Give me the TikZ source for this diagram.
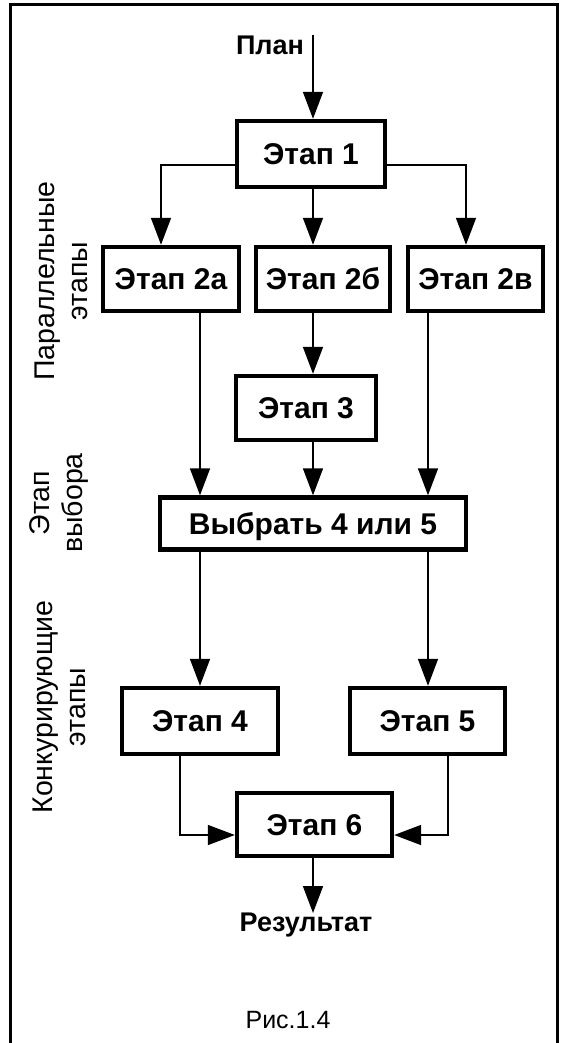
\documentclass[tikz,border=0pt]{standalone}
\usepackage{fontspec}
\setmainfont{Liberation Sans}
\usetikzlibrary{arrows.meta}
\tikzset{
  stage/.style={draw, line width=4.4pt, fill=white, inner sep=0pt, text height=21.5pt, text depth=0pt, font=\fontsize{30}{34}\bfseries\selectfont},
  conn/.style={line width=1.6pt},
  arr/.style={conn, -{Triangle[length=27pt,width=20pt]}},
  sidelabel/.style={rotate=90, align=center, font=\fontsize{28.5}{33}\selectfont},
  term/.style={font=\fontsize{27}{30}\bfseries\selectfont, inner sep=0pt}
}
\begin{document}
\begin{tikzpicture}[x=1pt,y=-1pt]
\useasboundingbox (0,0) rectangle (564,1043);
% frame
\draw[line width=3pt] (10,1050) -- (10,5) -- (557,5) -- (557,1050);
% columns / rows
\coordinate (xL) at (161,0);
\coordinate (xR) at (466,0);
\coordinate (xM) at (313,0);
\coordinate (xa) at (200,0);
\coordinate (xc) at (428,0);
\coordinate (x4) at (180,0);
\coordinate (x5) at (448,0);
\coordinate (yb) at (0,165);
\coordinate (y6) at (0,835);
\coordinate (planTop) at (313,35);
% nodes
\node[term] (plan) at (270,45) {План};
\node[stage, minimum width=148pt, minimum height=66pt] (p1) at (311,154) {Этап 1};
\node[stage, minimum width=136pt, minimum height=64pt] (a) at (171,279) {Этап 2а};
\node[stage, minimum width=134pt, minimum height=64pt] (b) at (323,279) {Этап 2б};
\node[stage, minimum width=135pt, minimum height=64pt] (c) at (475.5,279) {Этап 2в};
\node[stage, minimum width=140pt, minimum height=64pt] (e3) at (306,408) {Этап 3};
\node[stage, minimum width=306pt, minimum height=52pt] (s) at (313,523.5) {Выбрать 4 или 5};
\node[stage, minimum width=156pt, minimum height=66pt] (e4) at (200,721) {Этап 4};
\node[stage, minimum width=155pt, minimum height=66pt] (e5) at (427.5,721) {Этап 5};
\node[stage, minimum width=155pt, minimum height=63pt] (e6) at (314.5,824.5) {Этап 6};
\node[term, anchor=north] (res) at (306,913) {Результат};
\node[font=\fontsize{25}{28}\selectfont] (fig) at (288,1020) {Рис.1.4};
% side labels
\node[sidelabel] (l1) at (61,281) {Параллельные\\этапы};
\node[sidelabel] (l2) at (59,503) {Этап\\выбора};
\node[sidelabel] (l3) at (59,707) {Конкурирующие\\этапы};
% connectors
\draw[arr] (planTop) -- (planTop |- p1.north);
\draw[arr] (p1.west |- yb) -| (xL |- a.north);
\draw[arr] (p1.east |- yb) -| (xR |- c.north);
\draw[arr] (xM |- p1.south) -- (xM |- b.north);
\draw[arr] (xa |- a.south) -- (xa |- s.north);
\draw[arr] (xM |- b.south) -- (xM |- e3.north);
\draw[arr] (xM |- e3.south) -- (xM |- s.north);
\draw[arr] (xc |- c.south) -- (xc |- s.north);
\draw[arr] (xa |- s.south) -- (xa |- e4.north);
\draw[arr] (xc |- s.south) -- (xc |- e5.north);
\draw[arr] (x4 |- e4.south) |- (e6.west |- y6);
\draw[arr] (x5 |- e5.south) |- (e6.east |- y6);
\draw[arr] (xM |- e6.south) -- (xM |- res.north);
\end{tikzpicture}
\end{document}
